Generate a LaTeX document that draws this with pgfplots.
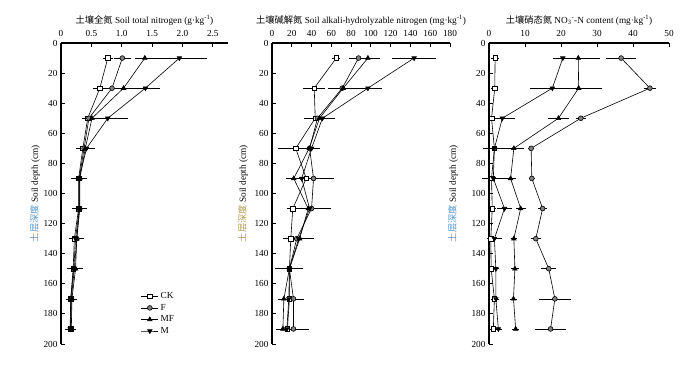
\documentclass[border=0pt]{standalone}
\usepackage{fontspec}
\setmainfont{Liberation Serif}
\newfontfamily\cjk{Noto Sans CJK SC}
\usepackage{pgfplots}
\usepackage{pgfplotstable}
\pgfplotsset{compat=1.18}
\definecolor{lblue}{RGB}{80,150,210}
\definecolor{lolive}{RGB}{175,155,70}

\pgfplotstableread{
depth CK CKe F Fe MF MFe M Me
10 0.77 0.05 1.01 0.10 1.38 0.12 1.95 0.42
30 0.64 0.08 0.84 0.10 1.03 0.15 1.39 0.20
50 0.44 0.05 0.46 0.05 0.51 0.05 0.77 0.30
70 0.36 0.08 0.38 0.08 0.40 0.10 0.42 0.10
90 0.29 0.08 0.30 0.08 0.31 0.08 0.30 0.10
110 0.29 0.07 0.30 0.07 0.31 0.08 0.30 0.07
130 0.22 0.06 0.26 0.08 0.26 0.08 0.24 0.06
150 0.20 0.06 0.22 0.06 0.24 0.08 0.21 0.06
170 0.16 0.04 0.17 0.04 0.18 0.05 0.16 0.04
190 0.16 0.04 0.16 0.04 0.17 0.04 0.15 0.04
}\tabTN

\pgfplotstableread{
depth CK CKe F Fe MF MFe M Me
10 65.0 2 87.5 7 97.0 10 143.7 20
30 42.7 9 71.0 12 72.0 12 97.0 12
50 43.7 9 46.0 10 48.0 10 51.0 10
70 24.0 16 38.0 7 37.6 7 40.0 6
90 34.6 10 42.0 18 22.0 6 30.0 10
110 21.0 4 40.0 17 36.6 6 38.0 6
130 19.0 6 25.0 10 28.0 12 27.0 8
150 17.6 12 17.6 10 17.6 8 17.6 6
170 17.6 4 21.7 8 12.0 4 17.0 6
190 15.6 5 21.7 13 11.0 5 15.0 6
}\tabAN

\pgfplotstableread{
depth CK CKe F Fe MF MFe M Me
10 1.7 0.5 36.7 3.5 24.8 5.5 20.5 2.0
30 1.6 0.3 44.7 1.0 24.9 6.0 17.6 5.7
50 0.7 0.3 25.5 0.8 19.3 2.3 3.7 3.0
70 1.5 1.0 11.7 0.3 6.9 2.2 1.5 2.5
90 0.7 0.5 11.9 0.3 6.0 1.0 1.2 2.5
110 0.9 0.3 14.9 0.6 8.8 0.8 4.3 1.5
130 0.5 0.3 13.0 0.8 6.9 0.3 1.5 1.5
150 0.6 0.3 16.6 1.5 7.2 0.4 1.9 0.3
170 1.5 0.3 18.3 3.8 6.8 0.3 1.9 0.3
190 1.2 0.3 17.1 3.8 7.4 0.3 2.6 0.3
}\tabNO

\pgfplotsset{
  panel/.style={
    scale only axis, height=301bp, ymin=0, ymax=200, y dir=reverse,
    axis x line=top, axis y line=left,
    axis line style={-, line width=1.1bp, black},
    tick align=inside, major tick length=3.5bp,
    tick style={line width=0.9bp, black},
    ytick={0,20,...,200},
    font=\fontsize{9.3}{10}\selectfont,
    /pgf/number format/assume math mode=true,
    x tick label style={yshift=3bp},
    title style={yshift=8bp},
    clip=false,
  },
  ser/.style={black, line width=0.6bp, mark size=2.6bp,
    error bars/x dir=both, error bars/x explicit,
    error bars/error bar style={line width=0.6bp, black},
    error bars/error mark options={line width=0.6bp, mark size=2.2bp, black}},
  sCK/.style={ser, mark=square*, mark size=2.3bp, mark options={fill=white, solid}},
  sF/.style={ser, mark=*, mark size=2.4bp, mark options={fill=gray, solid}},
  sMF/.style={ser, mark=triangle*, mark options={fill=black, solid}},
  sM/.style={ser, mark=triangle*, mark options={fill=black, solid, rotate=180}},
}

\begin{document}
\begin{tikzpicture}
\useasboundingbox (0,0) rectangle (700bp,-367bp);

\begin{axis}[panel, at={(61bp,-43bp)}, anchor=north west, width=167bp,
  xmin=0, xmax=2.75, xtick={0,0.5,...,2.5}, xticklabels={0,0.5,1.0,1.5,2.0,2.5},
  title={{\cjk 土壤全氮} Soil total nitrogen (g·kg\textsuperscript{-1})},
  ylabel={{\color{lblue}\cjk 土层深度} Soil depth (cm)},
  ylabel style={at={(axis description cs:-0.156,0.5)}, anchor=center},
  legend style={at={(axis description cs:0.46,0.185)}, anchor=north west, draw=none, fill=none,
    font=\fontsize{9.3}{10}\selectfont, row sep=0bp, cells={anchor=west}},
]
\addplot[sCK] table[x=CK, y=depth, x error=CKe]{\tabTN};
\addlegendentry{CK}
\addplot[sF] table[x=F, y=depth, x error=Fe]{\tabTN};
\addlegendentry{F}
\addplot[sMF] table[x=MF, y=depth, x error=MFe]{\tabTN};
\addlegendentry{MF}
\addplot[sM] table[x=M, y=depth, x error=Me]{\tabTN};
\addlegendentry{M}
\end{axis}

\begin{axis}[panel, at={(272bp,-43bp)}, anchor=north west, width=178bp,
  xmin=0, xmax=180, xtick={0,20,...,180},
  title={{\cjk 土壤碱解氮} Soil alkali-hydrolyzable nitrogen (mg·kg\textsuperscript{-1})},
  ylabel={{\color{lolive}\cjk 土层深度} Soil depth (cm)},
  ylabel style={at={(axis description cs:-0.163,0.5)}, anchor=center},
]
\addplot[sCK] table[x=CK, y=depth, x error=CKe]{\tabAN};
\addplot[sF] table[x=F, y=depth, x error=Fe]{\tabAN};
\addplot[sMF] table[x=MF, y=depth, x error=MFe]{\tabAN};
\addplot[sM] table[x=M, y=depth, x error=Me]{\tabAN};
\end{axis}

\begin{axis}[panel, at={(489bp,-43bp)}, anchor=north west, width=180bp,
  xmin=0, xmax=50, xtick={0,10,...,50},
  title={{\cjk 土壤硝态氮} NO\textsubscript{3}\textsuperscript{-}-N content (mg·kg\textsuperscript{-1})},
  ylabel={{\color{lblue}\cjk 土层深度} Soil depth (cm)},
  ylabel style={at={(axis description cs:-0.2,0.5)}, anchor=center},
]
\addplot[sCK] table[x=CK, y=depth, x error=CKe]{\tabNO};
\addplot[sF] table[x=F, y=depth, x error=Fe]{\tabNO};
\addplot[sMF] table[x=MF, y=depth, x error=MFe]{\tabNO};
\addplot[sM] table[x=M, y=depth, x error=Me]{\tabNO};
\end{axis}
\end{tikzpicture}
\end{document}
